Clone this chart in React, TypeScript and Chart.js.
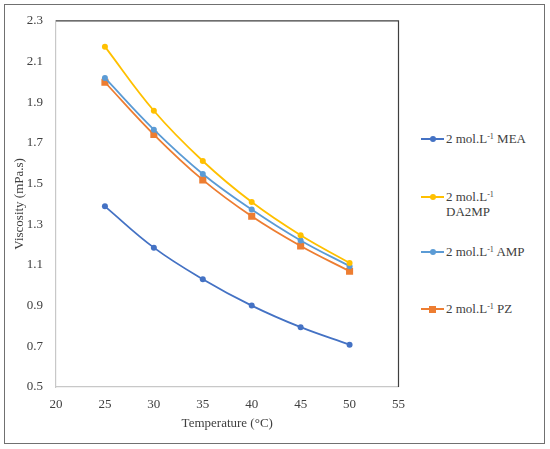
import { useEffect, useRef } from 'react'
import { Chart, registerables } from 'chart.js'

Chart.register(...registerables)

const temperatures = [25, 30, 35, 40, 45, 50]
const mea = [1.388, 1.185, 1.03, 0.9, 0.794, 0.708]
const da2mp = [2.173, 1.858, 1.611, 1.409, 1.246, 1.11]
const amp = [2.019, 1.765, 1.547, 1.372, 1.22, 1.094]
const pz = [1.998, 1.741, 1.518, 1.339, 1.193, 1.069]

const seriesNames = [['MEA'], ['', 'DA2MP'], ['AMP'], ['PZ']]
const seriesColors = ['#4472C4', '#FFC000', '#5B9BD5', '#ED7D31']
const seriesValues = [mea, da2mp, amp, pz]
const seriesShapes = ['circle', 'circle', 'circle', 'rect']

const FONT = '"Liberation Serif", "Times New Roman", serif'
const TEXT = '#404040'

// dark top and right edge of the plot area
const frameEdges = {
  id: 'frameEdges',
  afterDraw(chart: Chart) {
    const { ctx, chartArea } = chart
    ctx.save()
    ctx.strokeStyle = '#3f3f3f'
    ctx.lineWidth = 1.2
    ctx.beginPath()
    ctx.moveTo(chartArea.left, chartArea.top)
    ctx.lineTo(chartArea.right, chartArea.top)
    ctx.lineTo(chartArea.right, chartArea.bottom)
    ctx.stroke()
    ctx.restore()
  }
}

function Legend() {
  const tops = [139, 197, 252, 309]
  return (
    <>
      {seriesValues.map((_, i) => (
        <div key={i} style={{ position: 'absolute', left: 421, top: tops[i] - 8, height: 16 }}>
          <div style={{ position: 'absolute', left: 0, top: 7, width: 23, height: 2, background: seriesColors[i] }} />
          <div
            style={{
              position: 'absolute',
              left: seriesShapes[i] === 'rect' ? 8 : 9,
              top: seriesShapes[i] === 'rect' ? 4.5 : 5,
              width: seriesShapes[i] === 'rect' ? 7 : 6,
              height: seriesShapes[i] === 'rect' ? 7 : 6,
              borderRadius: seriesShapes[i] === 'rect' ? 0 : 3,
              background: seriesColors[i]
            }}
          />
          <div
            style={{
              position: 'absolute',
              left: 25,
              top: 0,
              whiteSpace: 'nowrap',
              font: `13px ${FONT}`,
              lineHeight: '15px',
              color: TEXT
            }}
          >
            2 mol.L<sup style={{ fontSize: 8, verticalAlign: 4, lineHeight: 0 }}>-1</sup>
            {seriesNames[i][0] ? ' ' + seriesNames[i][0] : ''}
            {seriesNames[i].slice(1).map((s) => (
              <div key={s}>{s}</div>
            ))}
          </div>
        </div>
      ))}
    </>
  )
}

export default function App() {
  const canvasRef = useRef<HTMLCanvasElement>(null)

  useEffect(() => {
    if (!canvasRef.current) return
    const chart = new Chart(canvasRef.current, {
      type: 'line',
      data: {
        datasets: seriesValues.map((vals, i) => ({
          label: seriesNames[i].join(' '),
          data: temperatures.map((t, j) => ({ x: t, y: vals[j] })),
          borderColor: seriesColors[i],
          backgroundColor: seriesColors[i],
          borderWidth: 1.8,
          pointStyle: seriesShapes[i] as any,
          pointRadius: seriesShapes[i] === 'rect' ? 5 : 3,
          pointBorderWidth: 0,
          tension: 0.4,
          fill: false
        }))
      },
      options: {
        animation: false,
        responsive: false,
        layout: { padding: { left: 8, top: 18, right: 13, bottom: 14 } },
        plugins: { legend: { display: false }, tooltip: { enabled: false } },
        scales: {
          x: {
            type: 'linear',
            min: 20,
            max: 55,
            afterFit: (s: any) => {
              s.height = 48
            },
            ticks: { stepSize: 5, color: TEXT, font: { family: FONT, size: 13 }, padding: 10 },
            grid: { display: false, drawTicks: false },
            border: { color: '#c8c8c8', width: 1.2 },
            title: {
              display: true,
              text: 'Temperature (°C)',
              color: TEXT,
              font: { family: FONT, size: 13 },
              padding: { top: 0, bottom: 4 }
            }
          },
          y: {
            min: 0.5,
            max: 2.3,
            afterFit: (s: any) => {
              s.width = 48
            },
            ticks: {
              stepSize: 0.2,
              color: TEXT,
              font: { family: FONT, size: 13 },
              padding: 13,
              callback: (v: any) => Number(v).toFixed(1)
            },
            grid: { display: false, drawTicks: false },
            border: { color: '#c8c8c8', width: 1.2 },
            title: {
              display: true,
              text: 'Viscosity (mPa.s)',
              color: TEXT,
              font: { family: FONT, size: 13 },
              padding: { top: 4, bottom: 0 }
            }
          }
        }
      },
      plugins: [frameEdges]
    })
    return () => chart.destroy()
  }, [])

  return (
    <div style={{ position: 'absolute', left: 0, top: 0, width: 550, height: 449, background: '#fff' }}>
      <div
        style={{
          position: 'absolute',
          left: 4,
          top: 4,
          width: 539,
          height: 438,
          border: '1.5px solid #707070'
        }}
      />
      <canvas ref={canvasRef} width={415} height={449} style={{ position: 'absolute', left: 0, top: 0 }} />
      <Legend />
    </div>
  )
}
